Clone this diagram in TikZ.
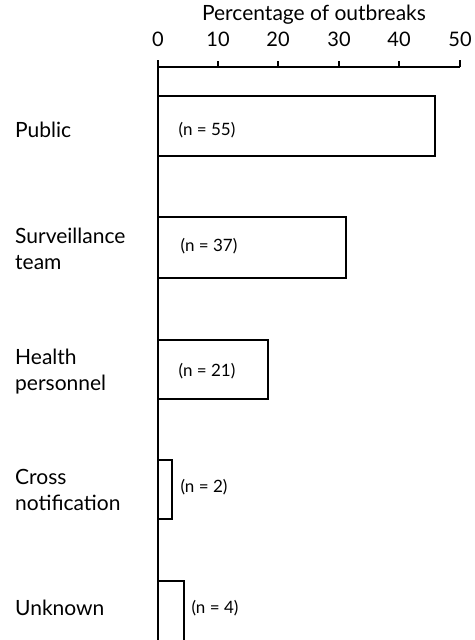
\documentclass[tikz,border=0pt]{standalone}
\usepackage{fontspec}
\setmainfont{Lato}
\usetikzlibrary{calc}
\tikzset{
  axisline/.style={line width=1.4pt},
  barbox/.style={line width=1.4pt},
  catlabel/.style={anchor=west, align=left, font=\fontsize{21}{26}\selectfont, inner sep=0pt},
  countlabel/.style={font=\fontsize{17}{20}\selectfont, inner sep=0pt},
  ticklabel/.style={font=\fontsize{20}{24}\selectfont, inner sep=0pt}
}
\begin{document}
\begin{tikzpicture}[x=1pt,y=-1pt]
		%%%%% START %%%%%
		\useasboundingbox (0,0) rectangle (474,640);
		
		% axis on top
		\node[ticklabel, font=\fontsize{21}{24}\selectfont] (title) at (314,15) {Percentage of outbreaks};
		\draw[axisline] (158,67) -- (460,67);
		\draw[axisline] (158,60) -- (158,640);
		\draw[axisline] (218,61) -- (218,67);
		\draw[axisline] (278,61) -- (278,67);
		\draw[axisline] (339,61) -- (339,67);
		\draw[axisline] (399,61) -- (399,67);
		\draw[axisline] (460,60) -- (460,67);
		\node[ticklabel] (t0) at (158,39) {0};
		\node[ticklabel] (t10) at (218,39) {10};
		\node[ticklabel] (t20) at (278,39) {20};
		\node[ticklabel] (t30) at (339,39) {30};
		\node[ticklabel] (t40) at (399,39) {40};
		\node[ticklabel] (t50) at (460,39) {50};
		
		% bars
		\draw[barbox] (158,96) rectangle (435,156);
		\node[countlabel] (npublic) at (207,130) {(n = 55)};
		\node[catlabel] (public) at (15,130) {Public};
		
		\draw[barbox] (158,217) rectangle (346,278);
		\node[countlabel] (nsurv) at (209,246) {(n = 37)};
		\node[catlabel] (surv) at (15,249) {Surveillance\\team};
		
		\draw[barbox] (158,340) rectangle (268,399);
		\node[countlabel] (nhealth) at (207,371) {(n = 21)};
		\node[catlabel] (health) at (15,372) {Health\\personnel};
		
		\draw[barbox] (158,460) rectangle (172,519);
		\node[countlabel] (ncross) at (204,487) {(n = 2)};
		\node[catlabel] (cross) at (15,490) {Cross\\notification};
		
		\draw[barbox] (158,581) rectangle (184,642);
		\node[countlabel] (nunknown) at (215,608) {(n = 4)};
		\node[catlabel] (unknown) at (15,608) {Unknown};
		%%%%% END %%%%%
	\end{tikzpicture}
\end{document}
